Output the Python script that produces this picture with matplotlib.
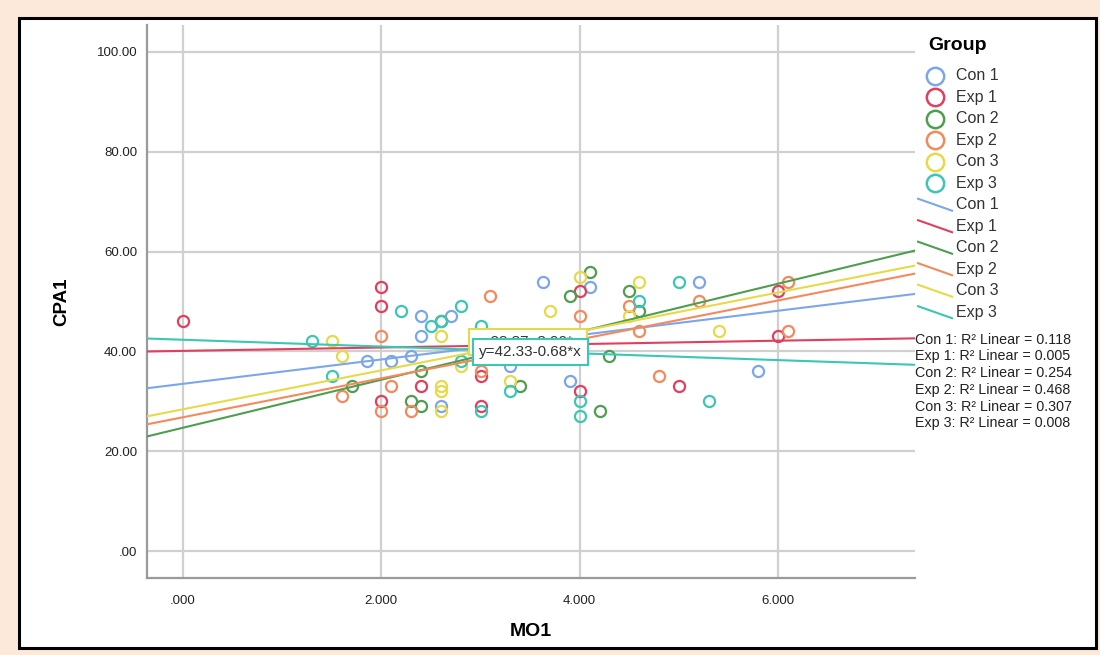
import matplotlib
matplotlib.use("Agg")
import matplotlib.pyplot as plt
from matplotlib.lines import Line2D
from matplotlib.patches import Rectangle

plt.rcParams['font.family'] = ['Liberation Sans', 'DejaVu Sans']

# ---------------- data ----------------
groups = ["Con 1", "Exp 1", "Con 2", "Exp 2", "Con 3", "Exp 3"]
colors = ["#7BA7EA", "#E23E5E", "#4F9E4F", "#F48A5C", "#E6DA48", "#3CC6B4"]

con1_x = [1.86, 2.1, 2.3, 2.4, 2.4, 2.7, 2.6, 3.3, 3.63, 4.1, 3.9, 5.2, 5.8]
con1_y = [38, 38, 39, 47, 43, 47, 29, 37, 54, 53, 34, 54, 36]
exp1_x = [0.0, 2.0, 2.0, 2.0, 2.4, 3.0, 3.0, 4.0, 4.0, 5.0, 6.0, 6.0]
exp1_y = [46, 53, 49, 30, 33, 35, 29, 52, 32, 33, 52, 43]
con2_x = [1.7, 2.3, 2.4, 2.4, 2.6, 3.4, 3.9, 4.1, 4.2, 4.3, 4.5, 4.6]
con2_y = [33, 30, 36, 29, 46, 33, 51, 56, 28, 39, 52, 48]
exp2_x = [1.6, 2.0, 2.0, 2.1, 2.3, 3.0, 3.1, 4.0, 4.5, 4.6, 4.8, 5.2, 6.1, 6.1]
exp2_y = [31, 43, 28, 33, 28, 36, 51, 47, 49, 44, 35, 50, 54, 44]
con3_x = [1.5, 1.6, 2.6, 2.6, 2.6, 2.6, 2.8, 3.3, 3.7, 4.0, 4.5, 4.6, 5.4]
con3_y = [42, 39, 43, 33, 32, 28, 37, 34, 48, 55, 47, 54, 44]
exp3_x = [1.3, 1.5, 2.2, 2.5, 2.6, 2.8, 2.8, 3.0, 3.0, 3.3, 4.0, 4.0, 4.6, 5.0, 5.3]
exp3_y = [42, 35, 48, 45, 46, 49, 38, 28, 45, 32, 30, 27, 50, 54, 30]

fit_intercept = [33.5, 40.1, 24.7, 26.8, 28.4, 42.33]
fit_slope = [2.44, 0.34, 4.81, 3.90, 3.90, -0.68]
r2_values = ["0.118", "0.005", "0.254", "0.468", "0.307", "0.008"]

x_ticks = [0, 2, 4, 6]
x_ticklabels = [".000", "2.000", "4.000", "6.000"]
y_ticks = [0, 20, 40, 60, 80, 100]
y_ticklabels = [".00", "20.00", "40.00", "60.00", "80.00", "100.00"]

xs = [con1_x, exp1_x, con2_x, exp2_x, con3_x, exp3_x]
ys = [con1_y, exp1_y, con2_y, exp2_y, con3_y, exp3_y]

# ---------------- figure ----------------
W, H = 1100, 655
fig = plt.figure(figsize=(W / 100, H / 100), dpi=100, facecolor="#FCE9DA")


def fx(px):
    return px / W


def fy(py):
    return 1 - py / H


fig.patches.append(Rectangle((fx(19), fy(648)), fx(1096) - fx(19), fy(18) - fy(648),
                             transform=fig.transFigure, facecolor="white",
                             edgecolor="black", lw=2.2, zorder=-5))

ax = fig.add_axes([fx(147), fy(578), fx(915) - fx(147), fy(25) - fy(578)])
ax.set_zorder(1)
ax.set_facecolor("white")
ax.set_xlim(-0.363, 7.381)
ax.set_ylim(-5.41, 105.4)

for s in ["top", "right"]:
    ax.spines[s].set_visible(False)
for s in ["left", "bottom"]:
    ax.spines[s].set_color("#9a9a9a")
    ax.spines[s].set_linewidth(1.6)

ax.set_xticks(x_ticks)
ax.set_xticklabels(x_ticklabels)
ax.set_yticks(y_ticks)
ax.set_yticklabels(y_ticklabels)
ax.tick_params(axis="both", length=0, labelsize=9.5, labelcolor="#222222")
ax.tick_params(axis="x", pad=12)
ax.tick_params(axis="y", pad=7)
ax.grid(True, color="#d0d0d0", lw=1.6)
ax.set_axisbelow(True)

for gx, gy, c in zip(xs, ys, colors):
    ax.plot(gx, gy, linestyle="none", marker="o", ms=8, mfc="none", mec=c, mew=1.6, zorder=3)

for b, m, c in zip(fit_intercept, fit_slope, colors):
    ax.axline((0, b), slope=m, color=c, lw=1.5, zorder=4)

ax.text(3.48, 41.9, "y=28.37+3.90*x", ha="center", va="center", fontsize=11, color="#333333",
        bbox=dict(boxstyle="square,pad=0.4", fc="white", ec=colors[4], lw=1.5), zorder=6)
ax.text(3.50, 39.9, "y=42.33-0.68*x", ha="center", va="center", fontsize=11, color="#333333",
        bbox=dict(boxstyle="square,pad=0.4", fc="white", ec=colors[5], lw=1.5), zorder=7)

ax.set_xlabel("MO1", fontsize=14, fontweight="bold")
ax.xaxis.set_label_coords(0.5, -(632 - 578) / 553)
ax.xaxis.label.set_va("center")
ax.set_ylabel("CPA1", fontsize=13.5, fontweight="bold")
ax.yaxis.set_label_coords((62 - 147) / 768, 0.5)
ax.yaxis.label.set_va("center")

# ---------------- legend ----------------
fig.text(fx(928), fy(45), "Group", fontsize=14, fontweight="bold", va="center", ha="left")
mark_y0, step = 75.7, 21.5
for i, (g, c) in enumerate(zip(groups, colors)):
    yy = mark_y0 + i * step
    fig.add_artist(Line2D([fx(935)], [fy(yy)], marker="o", ms=12.5, mfc="none", mec=c, mew=1.8,
                          transform=fig.transFigure))
    fig.text(fx(956), fy(yy), g, fontsize=11.5, va="center", ha="left", color="#333333")
for i, (g, c) in enumerate(zip(groups, colors)):
    yy = mark_y0 + (i + 6) * step
    fig.add_artist(Line2D([fx(918), fx(952)], [fy(yy - 6), fy(yy + 6)], color=c, lw=1.5,
                          transform=fig.transFigure))
    fig.text(fx(956), fy(yy), g, fontsize=11.5, va="center", ha="left", color="#333333")
for i, (g, r) in enumerate(zip(groups, r2_values)):
    yy = 339 + i * 16.8
    fig.text(fx(915), fy(yy + 4.5), g + ": R\u00b2 Linear = " + r, fontsize=10.3, va="baseline",
             ha="left", color="#222222", zorder=5)

fig.savefig("out.png", dpi=100, facecolor=fig.get_facecolor())
